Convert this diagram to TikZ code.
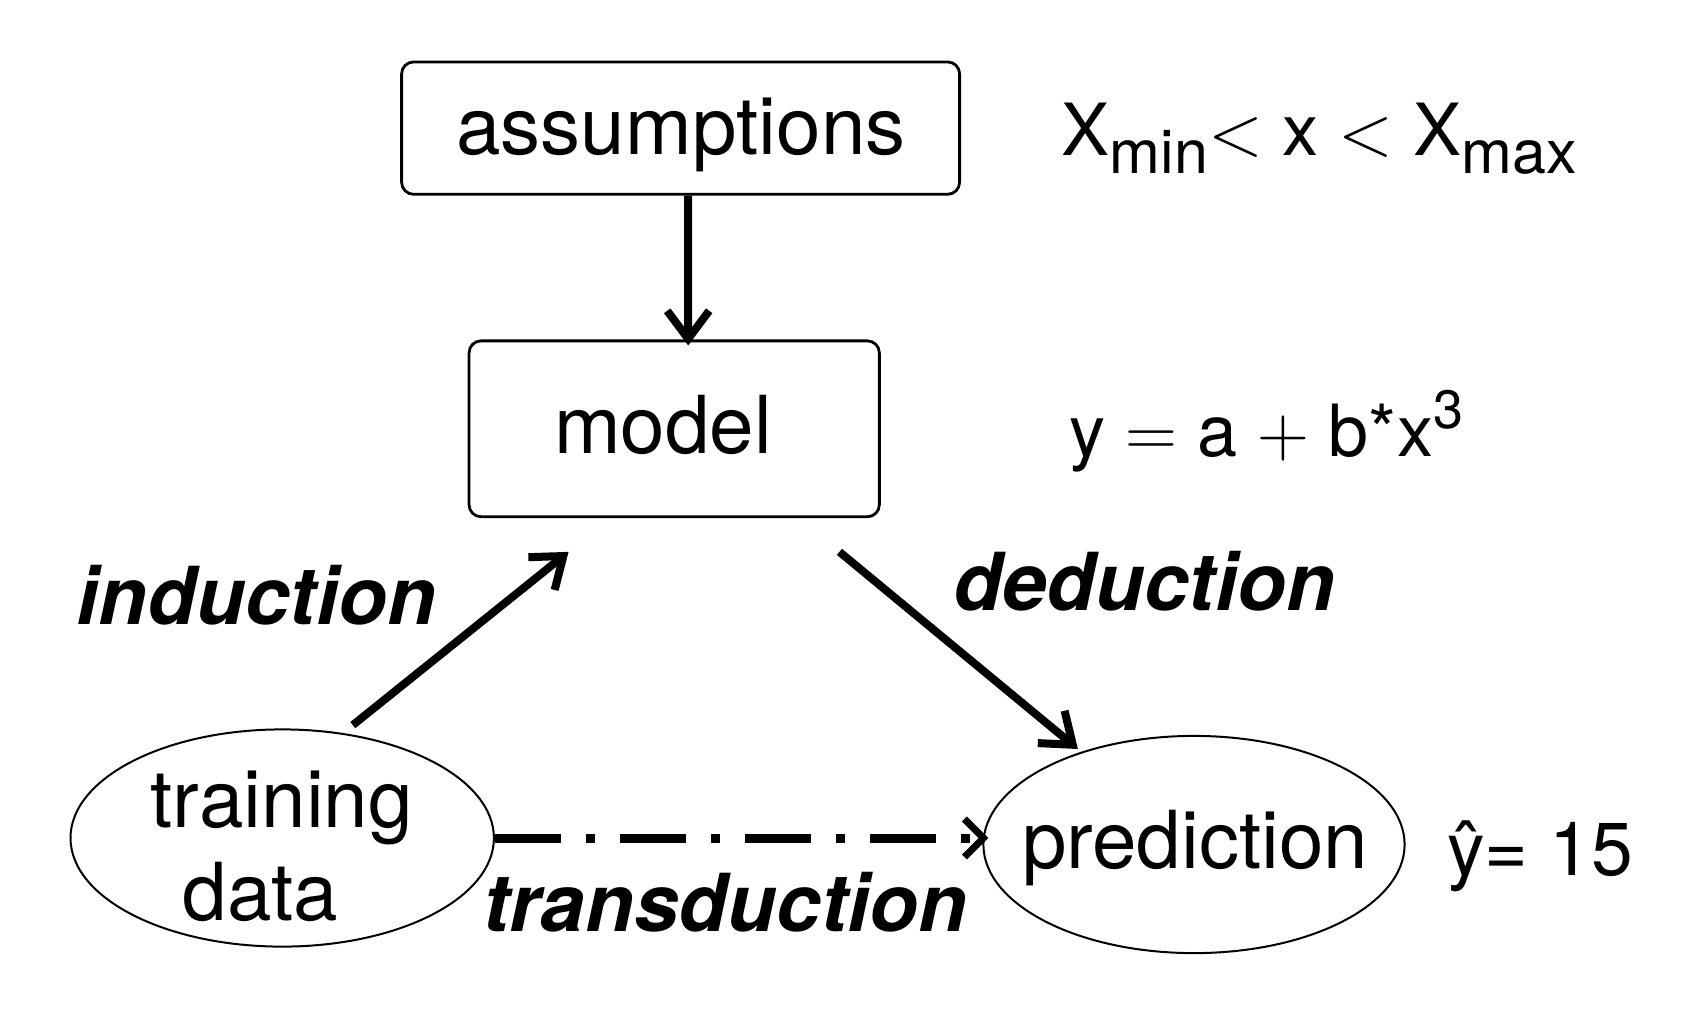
\RequirePackage{fix-cm}
\documentclass[tikz,border=0pt]{standalone}
\usepackage{fontspec}
\setmainfont{TeX Gyre Heros}
\usetikzlibrary{arrows.meta,shapes.geometric}
\begin{document}
\begin{tikzpicture}[x=1pt,y=-1pt,
  box/.style={draw, line width=2.8pt, rounded corners=12pt, inner sep=0pt},
  oval/.style={draw, ellipse, line width=2pt, inner sep=0pt},
  txt/.style={inner sep=0pt, anchor=base, font=\fontsize{80}{93}\selectfont},
  frm/.style={inner sep=0pt, anchor=base west, font=\fontsize{72}{80}\selectfont},
  lbl/.style={inner sep=0pt, anchor=base west, font=\fontsize{80}{93}\selectfont\bfseries\itshape},
  arr/.style={line width=8pt, -{Straight Barb[length=28pt,width=42pt]}},
  dasharr/.style={line width=9pt, dash pattern=on 66pt off 25pt on 9pt off 25pt,
     -{Straight Barb[length=19pt,width=38pt,line width=7pt]}}
]
\path[use as bounding box, fill=white] (0,0) rectangle (1702,1021);

% boxes and ellipses
\node[box, minimum width=558pt, minimum height=132.4pt] (assump) at (680.6,128.1) {};
\node[box, minimum width=410.3pt, minimum height=175.9pt] (model) at (674.2,428.8) {};
\node[oval, minimum width=423.4pt, minimum height=217.2pt] (train) at (282.2,838) {};
\node[oval, minimum width=421.2pt, minimum height=217.2pt] (pred) at (1194,844.5) {};

% texts in shapes
\node[txt] (tassump) at (681,154) {assumptions};
\node[txt] (tmodel) at (663,453.7) {model};
\node[txt] (ttrain1) at (281.7,827) {training};
\node[txt] (ttrain2) at (260.5,920.5) {data};
\node[txt] (tpred) at (1195.1,868) {prediction};

% formulas
\node[frm] (fx) at (1061.6,155.2) {X\raisebox{-18pt}{\fontsize{61}{61}\selectfont min}$<$ x $<$ X\raisebox{-18pt}{\fontsize{61}{61}\selectfont max}};
\node[frm] (fy) at (1069,456) {y $=$ a $+$ b*x\raisebox{28pt}{\fontsize{54}{54}\selectfont 3}};
\node[frm, font=\fontsize{75}{80}\selectfont] (fyhat) at (1447,875) {ŷ= 15};

% labels
\node[lbl] (lind) at (76,624) {induction};
\node[lbl] (lded) at (953,610) {deduction};
\node[lbl] (ltrans) at (483,931) {transduction};

% connectors
\draw[arr] ([xshift=7.6pt]assump.south) -- ([xshift=14pt,yshift=-6pt]model.north);
\draw[arr] ([xshift=70.6pt,yshift=112.9pt]train.center) -- ([xshift=100.9pt,yshift=-33.7pt]model.south west);
\draw[arr] ([xshift=-41.3pt,yshift=-33.7pt]model.south east) -- ([xshift=-116.1pt,yshift=95.5pt]pred.center);
\draw[dasharr, shorten >=-6pt] (train.east) -- (train.east -| pred.west);
\end{tikzpicture}
\end{document}
